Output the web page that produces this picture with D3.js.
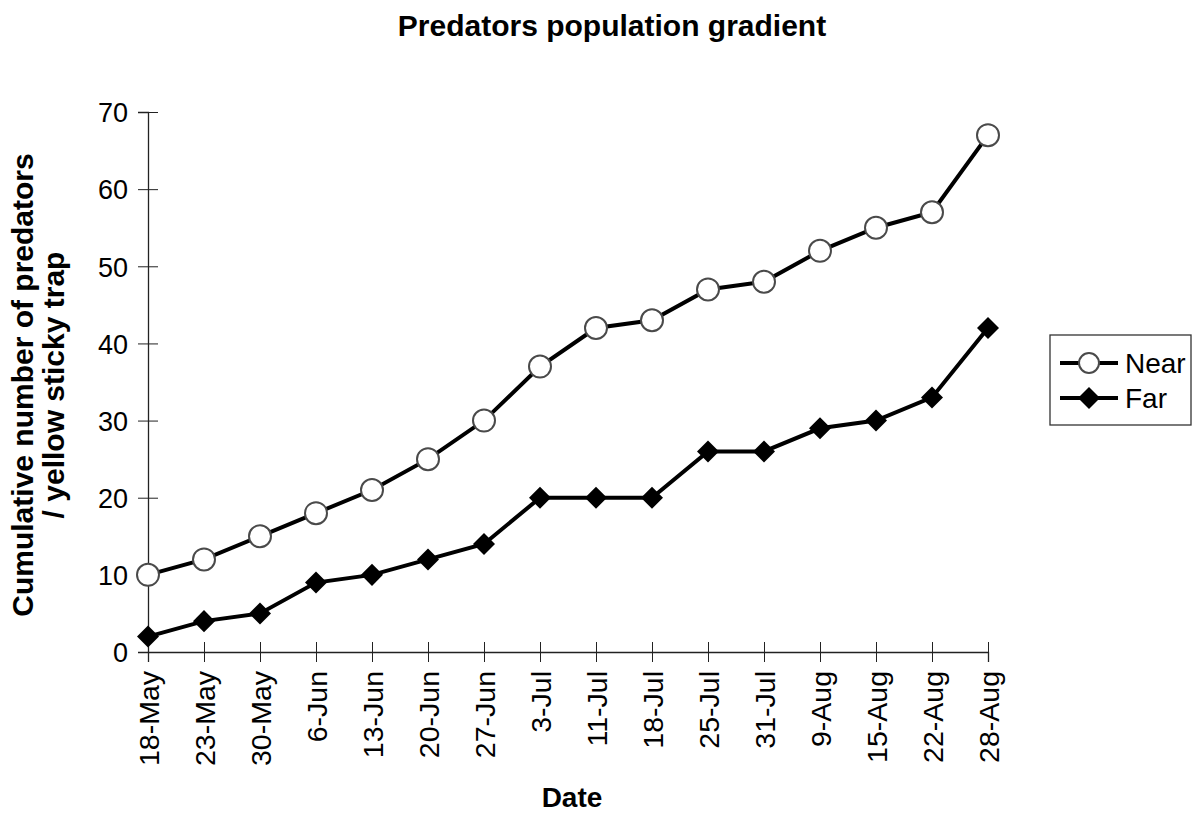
<!DOCTYPE html>
<html>
<head>
<meta charset="utf-8">
<script src="https://cdn.jsdelivr.net/npm/d3@7"></script>
<style>
  body { margin: 0; background: #fff; }
  text { font-family: "Liberation Sans", Arial, sans-serif; fill: #000; }
</style>
</head>
<body>
<div id="chart"></div>
<script>
//********************* DATA ************************************

var dates = ["18-May", "23-May", "30-May", "6-Jun", "13-Jun", "20-Jun", "27-Jun", "3-Jul",
             "11-Jul", "18-Jul", "25-Jul", "31-Jul", "9-Aug", "15-Aug", "22-Aug", "28-Aug"];
var nearValues = [10, 12, 15, 18, 21, 25, 30, 37, 42, 43, 47, 48, 52, 55, 57, 67];
var farValues = [2, 4, 5, 9, 10, 12, 14, 20, 20, 20, 26, 26, 29, 30, 33, 42];
var yTicks = [0, 10, 20, 30, 40, 50, 60, 70];

//********************* DIMENSIONS ************************************

var W = 1193, H = 815;
var margin = {top: 112, right: 205, bottom: 163, left: 148},
    width = W - margin.left - margin.right,
    height = H - margin.top - margin.bottom;

var svg = d3.select("#chart").append("svg")
    .attr("width", W)
    .attr("height", H);

var g = svg.append("g")
    .attr("transform", "translate(" + margin.left + "," + margin.top + ")");

var x = d3.scalePoint().domain(dates).range([0, width]);
var y = d3.scaleLinear().domain([0, 70]).range([height, 0]);

//********************* AXES ************************************

var yAxis = g.append("g")
    .call(d3.axisLeft(y).tickValues(yTicks).tickSize(10).tickPadding(8).tickFormat(d3.format("d")));
yAxis.select(".domain").attr("stroke", "#222").attr("stroke-width", 1.3);
yAxis.selectAll(".tick line").attr("x2", 10).attr("x1", -10).attr("stroke", "#222");
yAxis.selectAll(".tick text").attr("font-size", 27).attr("x", -20).attr("dy", "0.36em");

var xAxis = g.append("g")
    .attr("transform", "translate(0," + height + ")")
    .call(d3.axisBottom(x).tickSize(10).tickPadding(6));
xAxis.select(".domain").attr("stroke", "#222").attr("stroke-width", 1.3);
xAxis.selectAll(".tick line").attr("y1", -10).attr("y2", 10).attr("stroke", "#222");
xAxis.selectAll(".tick text")
    .attr("font-size", 28.5)
    .attr("transform", "rotate(-90)")
    .attr("text-anchor", "end")
    .attr("x", -19)
    .attr("y", 0)
    .attr("dy", "0.36em");

//********************* LINES ************************************

var line = d3.line()
    .x(function(d, i) { return x(dates[i]); })
    .y(function(d) { return y(d); });

g.append("path").datum(nearValues)
    .attr("d", line).attr("fill", "none").attr("stroke", "#000").attr("stroke-width", 4);
g.append("path").datum(farValues)
    .attr("d", line).attr("fill", "none").attr("stroke", "#000").attr("stroke-width", 4);

var diamond = d3.symbol().type(d3.symbolDiamond2).size(310);

g.selectAll(".far").data(farValues).enter().append("path")
    .attr("class", "far")
    .attr("d", diamond)
    .attr("transform", function(d, i) { return "translate(" + x(dates[i]) + "," + y(d) + ")"; })
    .attr("fill", "#000");

g.selectAll(".near").data(nearValues).enter().append("circle")
    .attr("class", "near")
    .attr("cx", function(d, i) { return x(dates[i]); })
    .attr("cy", function(d) { return y(d); })
    .attr("r", 11)
    .attr("fill", "#fff")
    .attr("stroke", "#4a4a4a")
    .attr("stroke-width", 2);

//********************* TITLES ************************************

svg.append("text")
    .attr("x", 612).attr("y", 36)
    .attr("text-anchor", "middle")
    .attr("font-size", 30).attr("font-weight", "bold")
    .text("Predators population gradient");

svg.append("text")
    .attr("x", 572).attr("y", 807)
    .attr("text-anchor", "middle")
    .attr("font-size", 28).attr("font-weight", "bold")
    .text("Date");

var yTitle = svg.append("text")
    .attr("transform", "translate(33,385) rotate(-90)")
    .attr("text-anchor", "middle")
    .attr("font-size", 30).attr("font-weight", "bold");
yTitle.append("tspan").attr("x", 0).attr("y", 0).text("Cumulative number of predators");
yTitle.append("tspan").attr("x", 0).attr("y", 31).text("/ yellow sticky trap");

//********************* LEGEND ************************************

var legend = svg.append("g").attr("transform", "translate(1050,335)");
legend.append("rect")
    .attr("width", 141).attr("height", 90)
    .attr("fill", "#fff").attr("stroke", "#333").attr("stroke-width", 1.3);

var items = [{name: "Near", y: 28}, {name: "Far", y: 63}];
items.forEach(function(it) {
  legend.append("line")
      .attr("x1", 10).attr("x2", 68).attr("y1", it.y).attr("y2", it.y)
      .attr("stroke", "#000").attr("stroke-width", 4);
  if (it.name === "Near") {
    legend.append("circle").attr("cx", 39).attr("cy", it.y).attr("r", 10)
        .attr("fill", "#fff").attr("stroke", "#4a4a4a").attr("stroke-width", 2);
  } else {
    legend.append("path").attr("d", diamond)
        .attr("transform", "translate(39," + it.y + ")")
        .attr("fill", "#000");
  }
  legend.append("text")
      .attr("x", 75).attr("y", it.y).attr("dy", "0.36em")
      .attr("font-size", 28)
      .text(it.name);
});
</script>
</body>
</html>
